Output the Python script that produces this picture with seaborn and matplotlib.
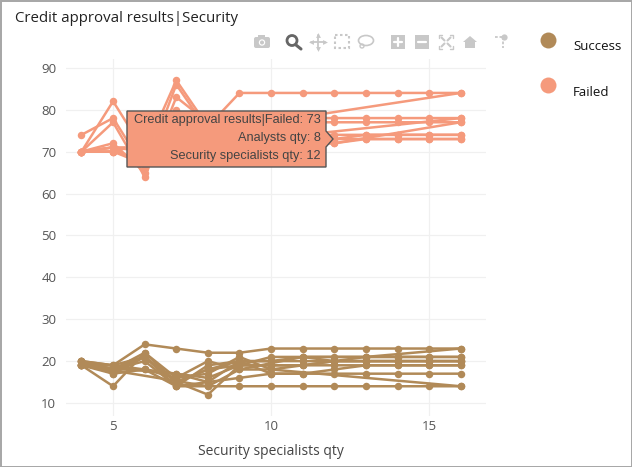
import numpy as np
import pandas as pd
import matplotlib
matplotlib.use("Agg")
import matplotlib.pyplot as plt
import matplotlib.patches as mpatches
from matplotlib.lines import Line2D
from matplotlib.transforms import Affine2D
import seaborn as sns

n = np.nan
security_qty = [4, 5, 6, 7, 8, 9, 10, 11, 12, 13, 14, 15, 16]

# failed runs, nan = no point at that qty
failed_1 = [70, 82, 70, 87, 76, 84, 84, 84, 84, 84, 84, 84, 84]
failed_2 = [74, 78, 66, 86, 75, 76, n, n, n, n, n, n, 84]
failed_3 = [70, 77, 64, 83, 77, 78, 78, 78, 78, 78, 78, 78, 78]
failed_4 = [70, 72, 65, 80, 72, 77, 77, 77, 77, 77, 77, 77, 77]
failed_5 = [70, 71, 71, 78, 74, 74, 74, 74, 74, 74, 74, 74, 74]
failed_6 = [70, 70, 72, 76, 73, 73, 73, 73, 73, 73, 73, 73, 73]
failed_7 = [70, 71, 70, 75, 71, 72, n, n, 72, n, n, n, 77]
failed_8 = [70, 70, 68, 74, 72, 73, n, 74, n, n, n, n, 78]
failed_9 = [70, 71, 66, 72, 73, 72, 73, 73, 73, 74, 74, 74, 74]
failed_10 = [70, 70, 67, 73, 74, 71, n, n, 72, 73, 73, 73, 73]

success_1 = [20, 19, 24, 23, 22, 22, 23, 23, 23, 23, 23, 23, 23]
success_2 = [19, 14, 22, 15, 12, 19, 19, 19, 20, 21, 21, 21, 21]
success_3 = [19, 19, 21, 14, 14, 14, 14, 14, 14, 14, 14, 14, 14]
success_4 = [19, 18, 18, 14, 15, 16, 17, 17, 17, 17, 17, 17, 17]
success_5 = [20, 17, 21, 15, 18, 20, 20, 21, 21, 21, 21, 21, 21]
success_6 = [19, 18, 22, 16, 17, 21, 18, n, n, n, n, n, 14]
success_7 = [20, n, n, 17, 16, 19, 19, 19, 19, 19, 19, 19, 19]
success_8 = [20, 18, 20, 14, 19, 20, 20, 20, 20, 20, 20, 20, 20]
success_9 = [19, n, n, n, 14, 18, 18, 19, 20, 20, 20, 20, 20]
success_10 = [19, 17, 18, 16, 20, 18, n, 21, n, 21, n, n, 23]
success_11 = [20, 18, 21, 15, 18, 19, 21, 21, 20, 20, 20, 20, 20]
success_12 = [19, n, n, 17, 15, 20, 17, 17, 18, 19, 19, 19, 19]

failed_runs = [failed_1, failed_2, failed_3, failed_4, failed_5,
               failed_6, failed_7, failed_8, failed_9, failed_10]
success_runs = [success_1, success_2, success_3, success_4, success_5, success_6,
                success_7, success_8, success_9, success_10, success_11, success_12]
result_labels = ["Success", "Failed"]
x_ticks = [5, 10, 15]
y_ticks = [10, 20, 30, 40, 50, 60, 70, 80, 90]

rows = []
for label, runs in zip(result_labels, [success_runs, failed_runs]):
    for i, run in enumerate(runs):
        rows.append(pd.DataFrame({"qty": security_qty, "value": run,
                                  "result": label, "run": f"{label}{i}"}))
df = pd.concat(rows).dropna()

BROWN = "#b18a58"
SALMON = "#f59a7c"
GRID = "#f0f0f0"
ICON = "#c8c8c8"

sns.set_style("white")
plt.rcParams["font.family"] = ["Open Sans", "DejaVu Sans"]

fig = plt.figure(figsize=(6.32, 4.67), dpi=100)
ax = fig.add_axes([66 / 632, 1 - 416 / 467, 420 / 632, 357 / 467])

sns.lineplot(data=df, x="qty", y="value", hue="result", units="run", estimator=None,
             palette={"Success": BROWN, "Failed": SALMON}, marker="o", markersize=5.4,
             markeredgewidth=0, linewidth=1.8, legend=False, ax=ax, sort=False)

ax.set_xlim(3.51, 16.8)
ax.set_ylim(6.9, 92.1)
ax.set_xticks(x_ticks)
ax.set_yticks(y_ticks)
ax.grid(True, color=GRID, linewidth=0.9)
ax.set_axisbelow(True)
sns.despine(ax=ax, left=True, bottom=True)
ax.tick_params(axis="x", length=0, labelsize=9.5, labelcolor="#555555", pad=3)
ax.tick_params(axis="y", length=0, labelsize=9.5, labelcolor="#555555", pad=7)
ax.set_xlabel("Security specialists qty", fontsize=10, color="#444444", labelpad=8, x=0.489)
ax.set_ylabel("")

# everything below is placed in image pixels
tp = Affine2D().scale(1 / 632, -1 / 467).translate(0, 1) + fig.transFigure

def add_patch(p):
    p.set_transform(tp)
    p.set_clip_on(False)
    fig.add_artist(p)

def add_line(xs, ys, **kw):
    fig.add_artist(Line2D(xs, ys, transform=tp, **kw))

fig.text(15, 19, "Credit approval results|Security", transform=tp, fontsize=10.8,
         color="#222222", va="center")

# legend
for label, color, y in zip(result_labels, [BROWN, SALMON], [40, 85]):
    add_line([548], [y], marker="o", markersize=11.5, color=color, markeredgewidth=0)
    fig.text(573, y + 7, label, transform=tp, fontsize=9.5, color="#111111", va="center")

# hover box
pts = [(127, 111), (326, 111), (326, 131), (333, 139), (326, 147), (326, 167), (127, 167)]
add_patch(mpatches.Polygon(pts, closed=True, facecolor=SALMON, edgecolor="#555555", linewidth=1))
hover_lines = ["Credit approval results|Failed: 73", "Analysts qty: 8", "Security specialists qty: 12"]
for txt, y in zip(hover_lines, [120, 138, 156]):
    fig.text(321, y, txt, transform=tp, ha="right", va="center", fontsize=9.2,
             color="#444444", family=["Liberation Sans", "DejaVu Sans"])

# modebar
add_patch(mpatches.FancyBboxPatch((254, 37), 16, 11, boxstyle="round,pad=0,rounding_size=2",
                                  facecolor=ICON, edgecolor="none"))
add_patch(mpatches.Rectangle((258, 35), 7, 3, facecolor=ICON, edgecolor="none"))
add_patch(mpatches.Circle((262, 42.5), 3.2, facecolor="white", edgecolor="none"))
add_patch(mpatches.Circle((262, 42.5), 2, facecolor=ICON, edgecolor="none"))

add_patch(mpatches.Circle((292, 40.5), 5, facecolor="none", edgecolor="#666666", linewidth=2))
add_line([296, 301], [45, 49], color="#666666", linewidth=2.2)

add_line([311, 325], [42, 42], color=ICON, linewidth=1.3)
add_line([318, 318], [35, 49], color=ICON, linewidth=1.3)
for mx, my, m in [(311, 42, "<"), (325, 42, ">"), (318, 35, "^"), (318, 49, "v")]:
    add_line([mx], [my], marker=m, markersize=3.5, color=ICON, markeredgewidth=0)

add_patch(mpatches.Rectangle((335, 35), 14, 13, facecolor="none", edgecolor=ICON,
                             linewidth=1.5, linestyle=(0, (1.2, 1.2))))

add_patch(mpatches.Ellipse((366, 40.5), 15, 10, facecolor="none", edgecolor=ICON, linewidth=1.2))
add_patch(mpatches.Circle((362, 46), 2, facecolor="none", edgecolor=ICON, linewidth=1))

for cx, horiz_only in [(398, False), (422, True)]:
    add_patch(mpatches.Rectangle((cx - 7, 35), 14, 14, facecolor=ICON, edgecolor="none"))
    add_line([cx - 4, cx + 4], [42, 42], color="white", linewidth=1.6)
    if not horiz_only:
        add_line([cx, cx], [38, 46], color="white", linewidth=1.6)

for sx, sy in [(-1, -1), (1, -1), (-1, 1), (1, 1)]:
    cx, cy = 446 + sx * 7, 42 + sy * 7
    add_line([cx - sx * 3, cx, cx], [cy, cy, cy - sy * 3], color=ICON, linewidth=1)
    add_line([446 + sx * 4.5, 446 + sx * 1.5], [42 + sy * 4.5, 42 + sy * 1.5], color=ICON, linewidth=1.5)

add_patch(mpatches.Polygon([(463, 42), (470, 36), (477, 42)], closed=True, facecolor=ICON, edgecolor="none"))
add_patch(mpatches.Rectangle((465, 42), 10, 6, facecolor=ICON, edgecolor="none"))

add_line([495, 503], [37, 37], color=ICON, linewidth=1.3, linestyle=(0, (1.5, 1)))
add_line([503, 503], [37, 48], color=ICON, linewidth=1.3, linestyle=(0, (1.5, 1)))
add_line([504], [37], marker="o", markersize=4.5, color=ICON, markeredgewidth=0)

# window border
add_patch(mpatches.Rectangle((0.5, 0.5), 631, 466, facecolor="none", edgecolor="#a6a6a6", linewidth=1.4))

fig.savefig("out.png", dpi=100)
